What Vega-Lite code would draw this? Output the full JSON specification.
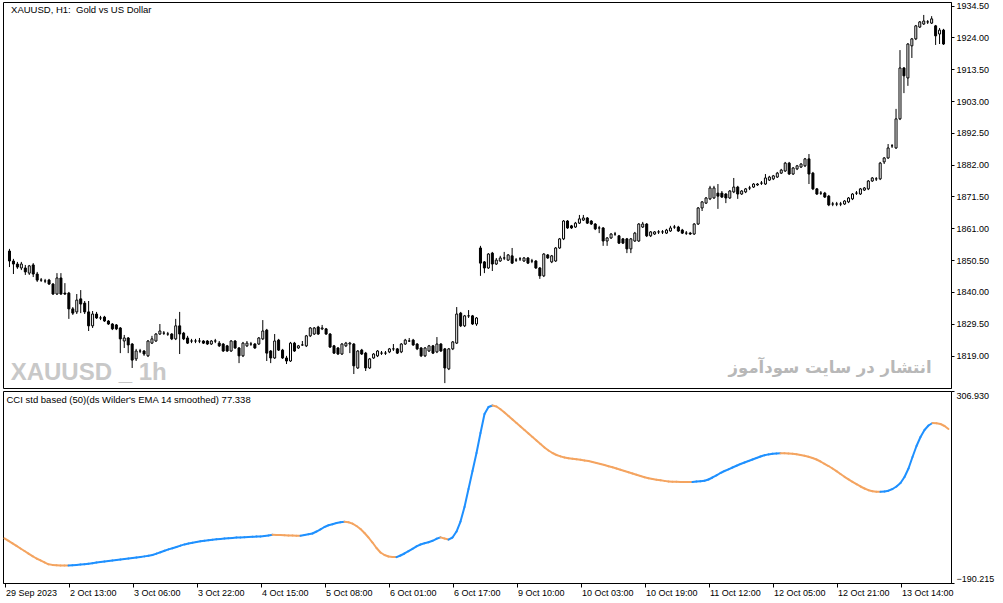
{
  "$schema": "https://vega.github.io/schema/vega-lite/v6.json",
  "padding": {"left": 2, "top": 1, "right": 0, "bottom": 0},
  "background": "white",
  "spacing": 3,
  "bounds": "flush",
  "config": {
    "view": {"stroke": "black", "strokeWidth": 1},
    "font": "Liberation Sans",
    "axis": {
      "labelFont": "Liberation Sans",
      "labelFontSize": 9,
      "labelColor": "black",
      "domainColor": "black",
      "tickColor": "black",
      "grid": false,
      "title": null,
      "tickSize": 3,
      "labelPadding": 2,
      "labelOverlap": false
    }
  },
  "datasets": {
    "bars": [
      {"i":0,"o":1853.5,"h":1854.2,"l":1848.2,"c":1850.2,"v":-74.5,"d":"dn"},
      {"i":1,"o":1850.2,"h":1850.9,"l":1845.9,"c":1849.2,"v":-80.9,"d":"dn"},
      {"i":2,"o":1849.2,"h":1849.9,"l":1847.6,"c":1848.2,"v":-87.4,"d":"dn"},
      {"i":3,"o":1847.9,"h":1849.9,"l":1847.2,"c":1849.2,"v":-94.2,"d":"dn"},
      {"i":4,"o":1847.9,"h":1848.9,"l":1845.6,"c":1846.6,"v":-100.9,"d":"dn"},
      {"i":5,"o":1846.2,"h":1848.9,"l":1845.6,"c":1848.6,"v":-107.4,"d":"dn"},
      {"i":6,"o":1848.9,"h":1849.5,"l":1844.9,"c":1845.9,"v":-114.1,"d":"dn"},
      {"i":7,"o":1845.9,"h":1846.6,"l":1843.3,"c":1843.9,"v":-120.8,"d":"dn"},
      {"i":8,"o":1843.9,"h":1844.6,"l":1843.3,"c":1843.9,"v":-126.8,"d":"dn"},
      {"i":9,"o":1843.6,"h":1844.3,"l":1842.9,"c":1843.6,"v":-131.7,"d":"dn"},
      {"i":10,"o":1843.9,"h":1844.3,"l":1842.3,"c":1842.6,"v":-136.9,"d":"dn"},
      {"i":11,"o":1842.6,"h":1842.9,"l":1839.0,"c":1839.3,"v":-141.8,"d":"dn"},
      {"i":12,"o":1839.3,"h":1846.2,"l":1839.0,"c":1844.6,"v":-143.3,"d":"dn"},
      {"i":13,"o":1844.6,"h":1846.2,"l":1839.0,"c":1839.3,"v":-144.4,"d":"dn"},
      {"i":14,"o":1839.6,"h":1842.9,"l":1839.0,"c":1839.3,"v":-144.9,"d":"dn"},
      {"i":15,"o":1839.6,"h":1840.0,"l":1831.1,"c":1834.4,"v":-144.9,"d":"dn"},
      {"i":16,"o":1834.4,"h":1835.0,"l":1832.4,"c":1833.0,"v":-144.6,"d":"dn"},
      {"i":17,"o":1833.4,"h":1839.3,"l":1832.7,"c":1837.3,"v":-144.4,"d":"up"},
      {"i":18,"o":1837.7,"h":1840.6,"l":1833.0,"c":1836.0,"v":-143.6,"d":"up"},
      {"i":19,"o":1836.3,"h":1837.0,"l":1832.7,"c":1833.4,"v":-142.6,"d":"up"},
      {"i":20,"o":1833.4,"h":1837.0,"l":1827.1,"c":1828.8,"v":-141.5,"d":"up"},
      {"i":21,"o":1828.8,"h":1833.7,"l":1828.1,"c":1832.7,"v":-140.5,"d":"up"},
      {"i":22,"o":1832.7,"h":1833.4,"l":1831.1,"c":1831.4,"v":-138.9,"d":"up"},
      {"i":23,"o":1831.4,"h":1832.1,"l":1830.7,"c":1831.4,"v":-137.4,"d":"up"},
      {"i":24,"o":1831.7,"h":1832.1,"l":1830.1,"c":1830.4,"v":-136.1,"d":"up"},
      {"i":25,"o":1830.4,"h":1830.7,"l":1829.1,"c":1829.4,"v":-134.8,"d":"up"},
      {"i":26,"o":1829.4,"h":1829.7,"l":1827.4,"c":1827.8,"v":-133.5,"d":"up"},
      {"i":27,"o":1829.1,"h":1829.4,"l":1827.4,"c":1827.8,"v":-132.0,"d":"up"},
      {"i":28,"o":1828.1,"h":1828.4,"l":1819.8,"c":1824.5,"v":-130.7,"d":"up"},
      {"i":29,"o":1823.8,"h":1825.8,"l":1821.5,"c":1824.8,"v":-129.4,"d":"up"},
      {"i":30,"o":1824.8,"h":1825.1,"l":1819.8,"c":1822.5,"v":-128.1,"d":"up"},
      {"i":31,"o":1822.8,"h":1823.1,"l":1814.9,"c":1817.5,"v":-126.8,"d":"up"},
      {"i":32,"o":1817.9,"h":1821.2,"l":1817.2,"c":1820.5,"v":-125.5,"d":"up"},
      {"i":33,"o":1820.5,"h":1821.2,"l":1819.8,"c":1820.5,"v":-124.2,"d":"up"},
      {"i":34,"o":1820.5,"h":1820.8,"l":1818.9,"c":1819.5,"v":-122.9,"d":"up"},
      {"i":35,"o":1818.9,"h":1824.1,"l":1818.5,"c":1823.8,"v":-121.3,"d":"up"},
      {"i":36,"o":1823.1,"h":1825.5,"l":1822.8,"c":1824.5,"v":-119.8,"d":"up"},
      {"i":37,"o":1823.8,"h":1826.4,"l":1823.5,"c":1826.1,"v":-117.7,"d":"up"},
      {"i":38,"o":1826.1,"h":1829.4,"l":1825.8,"c":1827.1,"v":-114.1,"d":"up"},
      {"i":39,"o":1826.4,"h":1827.1,"l":1825.8,"c":1826.4,"v":-110.5,"d":"up"},
      {"i":40,"o":1826.1,"h":1826.8,"l":1825.5,"c":1826.1,"v":-106.8,"d":"up"},
      {"i":41,"o":1826.1,"h":1826.4,"l":1824.1,"c":1824.5,"v":-103.2,"d":"up"},
      {"i":42,"o":1824.5,"h":1831.1,"l":1824.1,"c":1828.8,"v":-100.1,"d":"up"},
      {"i":43,"o":1828.8,"h":1833.4,"l":1819.5,"c":1826.1,"v":-97.0,"d":"up"},
      {"i":44,"o":1826.4,"h":1826.8,"l":1824.1,"c":1824.5,"v":-93.4,"d":"up"},
      {"i":45,"o":1824.8,"h":1825.5,"l":1822.8,"c":1823.1,"v":-90.3,"d":"up"},
      {"i":46,"o":1823.8,"h":1824.5,"l":1823.1,"c":1823.8,"v":-87.9,"d":"up"},
      {"i":47,"o":1823.8,"h":1824.5,"l":1823.1,"c":1823.8,"v":-85.9,"d":"up"},
      {"i":48,"o":1823.8,"h":1824.8,"l":1823.1,"c":1823.8,"v":-84.1,"d":"up"},
      {"i":49,"o":1823.8,"h":1824.1,"l":1822.8,"c":1823.1,"v":-82.2,"d":"up"},
      {"i":50,"o":1823.8,"h":1824.1,"l":1822.5,"c":1822.8,"v":-80.7,"d":"up"},
      {"i":51,"o":1822.8,"h":1824.1,"l":1822.5,"c":1823.8,"v":-79.4,"d":"up"},
      {"i":52,"o":1823.8,"h":1824.5,"l":1823.1,"c":1823.8,"v":-78.1,"d":"up"},
      {"i":53,"o":1823.1,"h":1823.8,"l":1821.8,"c":1822.2,"v":-77.1,"d":"up"},
      {"i":54,"o":1822.8,"h":1823.1,"l":1820.2,"c":1820.5,"v":-76.0,"d":"up"},
      {"i":55,"o":1822.2,"h":1822.5,"l":1820.2,"c":1820.5,"v":-75.3,"d":"up"},
      {"i":56,"o":1820.5,"h":1824.1,"l":1820.2,"c":1823.8,"v":-74.2,"d":"up"},
      {"i":57,"o":1823.8,"h":1824.1,"l":1821.2,"c":1821.5,"v":-73.4,"d":"up"},
      {"i":58,"o":1821.5,"h":1821.8,"l":1816.5,"c":1818.9,"v":-72.7,"d":"up"},
      {"i":59,"o":1818.9,"h":1823.5,"l":1818.5,"c":1823.1,"v":-72.1,"d":"up"},
      {"i":60,"o":1822.2,"h":1823.8,"l":1821.8,"c":1823.1,"v":-71.6,"d":"up"},
      {"i":61,"o":1822.8,"h":1823.5,"l":1822.2,"c":1822.8,"v":-71.1,"d":"up"},
      {"i":62,"o":1822.8,"h":1823.1,"l":1821.2,"c":1821.5,"v":-70.6,"d":"up"},
      {"i":63,"o":1822.8,"h":1825.1,"l":1822.5,"c":1824.8,"v":-70.1,"d":"up"},
      {"i":64,"o":1824.5,"h":1830.7,"l":1824.1,"c":1827.1,"v":-69.6,"d":"up"},
      {"i":65,"o":1827.4,"h":1827.8,"l":1817.2,"c":1819.8,"v":-68.5,"d":"up"},
      {"i":66,"o":1820.5,"h":1820.8,"l":1816.5,"c":1818.2,"v":-67.0,"d":"up"},
      {"i":67,"o":1818.2,"h":1826.1,"l":1817.9,"c":1823.8,"v":-65.2,"d":"up"},
      {"i":68,"o":1824.1,"h":1824.5,"l":1820.5,"c":1820.8,"v":-65.7,"d":"dn"},
      {"i":69,"o":1820.8,"h":1821.2,"l":1817.9,"c":1818.2,"v":-66.2,"d":"dn"},
      {"i":70,"o":1818.2,"h":1818.9,"l":1816.2,"c":1817.2,"v":-66.7,"d":"dn"},
      {"i":71,"o":1817.2,"h":1823.5,"l":1816.9,"c":1823.1,"v":-67.2,"d":"dn"},
      {"i":72,"o":1823.1,"h":1823.5,"l":1820.2,"c":1820.5,"v":-67.5,"d":"dn"},
      {"i":73,"o":1821.5,"h":1822.5,"l":1821.2,"c":1822.2,"v":-67.7,"d":"dn"},
      {"i":74,"o":1822.5,"h":1823.8,"l":1822.2,"c":1822.5,"v":-68.0,"d":"dn"},
      {"i":75,"o":1822.2,"h":1825.8,"l":1821.8,"c":1825.5,"v":-65.9,"d":"up"},
      {"i":76,"o":1825.5,"h":1828.4,"l":1825.1,"c":1828.1,"v":-64.1,"d":"up"},
      {"i":77,"o":1826.1,"h":1828.4,"l":1825.8,"c":1828.1,"v":-62.0,"d":"up"},
      {"i":78,"o":1828.4,"h":1828.8,"l":1825.8,"c":1826.1,"v":-56.9,"d":"up"},
      {"i":79,"o":1827.8,"h":1829.1,"l":1827.4,"c":1828.1,"v":-51.2,"d":"up"},
      {"i":80,"o":1827.8,"h":1828.1,"l":1825.8,"c":1826.1,"v":-45.2,"d":"up"},
      {"i":81,"o":1826.1,"h":1826.4,"l":1821.5,"c":1821.8,"v":-40.8,"d":"up"},
      {"i":82,"o":1822.2,"h":1822.5,"l":1819.5,"c":1819.8,"v":-38.0,"d":"up"},
      {"i":83,"o":1821.5,"h":1821.8,"l":1819.2,"c":1819.5,"v":-34.9,"d":"up"},
      {"i":84,"o":1819.5,"h":1823.1,"l":1819.2,"c":1822.8,"v":-33.0,"d":"up"},
      {"i":85,"o":1822.2,"h":1823.5,"l":1821.8,"c":1823.1,"v":-31.8,"d":"up"},
      {"i":86,"o":1822.8,"h":1823.5,"l":1819.8,"c":1823.1,"v":-32.8,"d":"dn"},
      {"i":87,"o":1822.8,"h":1823.1,"l":1812.9,"c":1815.6,"v":-36.4,"d":"dn"},
      {"i":88,"o":1814.9,"h":1820.8,"l":1814.6,"c":1820.5,"v":-42.6,"d":"dn"},
      {"i":89,"o":1820.8,"h":1821.2,"l":1819.2,"c":1819.5,"v":-50.4,"d":"dn"},
      {"i":90,"o":1819.8,"h":1820.2,"l":1813.9,"c":1814.9,"v":-60.8,"d":"dn"},
      {"i":91,"o":1814.9,"h":1818.2,"l":1814.6,"c":1817.9,"v":-72.4,"d":"dn"},
      {"i":92,"o":1818.2,"h":1819.8,"l":1817.9,"c":1819.5,"v":-85.4,"d":"dn"},
      {"i":93,"o":1818.9,"h":1820.8,"l":1818.5,"c":1820.5,"v":-99.6,"d":"dn"},
      {"i":94,"o":1819.8,"h":1820.5,"l":1819.2,"c":1819.8,"v":-111.2,"d":"dn"},
      {"i":95,"o":1819.8,"h":1820.5,"l":1819.2,"c":1819.8,"v":-117.7,"d":"dn"},
      {"i":96,"o":1820.2,"h":1821.5,"l":1819.8,"c":1821.2,"v":-121.6,"d":"dn"},
      {"i":97,"o":1821.2,"h":1822.8,"l":1820.5,"c":1821.2,"v":-122.6,"d":"dn"},
      {"i":98,"o":1821.2,"h":1821.5,"l":1819.5,"c":1819.8,"v":-123.2,"d":"dn"},
      {"i":99,"o":1820.2,"h":1823.1,"l":1819.8,"c":1822.8,"v":-119.0,"d":"up"},
      {"i":100,"o":1822.8,"h":1824.5,"l":1822.5,"c":1824.1,"v":-113.8,"d":"up"},
      {"i":101,"o":1823.8,"h":1824.8,"l":1823.5,"c":1823.8,"v":-107.9,"d":"up"},
      {"i":102,"o":1824.1,"h":1824.5,"l":1822.2,"c":1822.5,"v":-101.7,"d":"up"},
      {"i":103,"o":1822.8,"h":1823.1,"l":1820.8,"c":1821.2,"v":-95.2,"d":"up"},
      {"i":104,"o":1821.5,"h":1821.8,"l":1818.5,"c":1818.9,"v":-90.5,"d":"up"},
      {"i":105,"o":1818.9,"h":1821.8,"l":1818.5,"c":1821.5,"v":-87.4,"d":"up"},
      {"i":106,"o":1820.5,"h":1822.5,"l":1820.2,"c":1822.2,"v":-84.6,"d":"up"},
      {"i":107,"o":1822.2,"h":1822.5,"l":1819.5,"c":1819.8,"v":-80.9,"d":"up"},
      {"i":108,"o":1820.2,"h":1825.1,"l":1819.8,"c":1822.8,"v":-75.8,"d":"up"},
      {"i":109,"o":1822.8,"h":1823.1,"l":1820.2,"c":1820.5,"v":-72.1,"d":"up"},
      {"i":110,"o":1821.2,"h":1821.5,"l":1809.9,"c":1814.9,"v":-75.0,"d":"dn"},
      {"i":111,"o":1814.6,"h":1821.5,"l":1814.2,"c":1821.2,"v":-77.8,"d":"dn"},
      {"i":112,"o":1821.2,"h":1823.8,"l":1820.8,"c":1823.5,"v":-72.4,"d":"up"},
      {"i":113,"o":1823.1,"h":1835.0,"l":1822.8,"c":1832.7,"v":-56.9,"d":"up"},
      {"i":114,"o":1833.0,"h":1833.4,"l":1828.4,"c":1828.8,"v":-31.0,"d":"up"},
      {"i":115,"o":1828.8,"h":1832.4,"l":1828.4,"c":1832.1,"v":6.6,"d":"up"},
      {"i":116,"o":1832.1,"h":1834.0,"l":1831.4,"c":1832.1,"v":53.2,"d":"up"},
      {"i":117,"o":1832.1,"h":1832.4,"l":1829.1,"c":1829.4,"v":99.8,"d":"up"},
      {"i":118,"o":1829.4,"h":1831.7,"l":1828.8,"c":1831.4,"v":146.4,"d":"up"},
      {"i":119,"o":1854.5,"h":1855.2,"l":1845.3,"c":1849.5,"v":198.2,"d":"up"},
      {"i":120,"o":1849.9,"h":1850.2,"l":1846.2,"c":1847.9,"v":247.4,"d":"up"},
      {"i":121,"o":1847.9,"h":1852.8,"l":1847.6,"c":1852.5,"v":265.5,"d":"up"},
      {"i":122,"o":1852.8,"h":1853.2,"l":1846.9,"c":1849.2,"v":269.4,"d":"up"},
      {"i":123,"o":1849.2,"h":1851.2,"l":1848.9,"c":1850.5,"v":266.8,"d":"dn"},
      {"i":124,"o":1850.2,"h":1851.9,"l":1849.9,"c":1851.2,"v":259.6,"d":"dn"},
      {"i":125,"o":1851.2,"h":1853.2,"l":1850.5,"c":1851.2,"v":251.3,"d":"dn"},
      {"i":126,"o":1850.5,"h":1852.5,"l":1850.2,"c":1852.2,"v":242.2,"d":"dn"},
      {"i":127,"o":1851.9,"h":1854.5,"l":1849.2,"c":1849.5,"v":233.1,"d":"dn"},
      {"i":128,"o":1850.5,"h":1851.2,"l":1849.9,"c":1850.5,"v":224.1,"d":"dn"},
      {"i":129,"o":1850.9,"h":1851.5,"l":1850.2,"c":1850.9,"v":215.0,"d":"dn"},
      {"i":130,"o":1850.2,"h":1851.5,"l":1849.9,"c":1851.2,"v":206.0,"d":"dn"},
      {"i":131,"o":1851.2,"h":1851.5,"l":1849.2,"c":1849.5,"v":196.9,"d":"dn"},
      {"i":132,"o":1850.2,"h":1850.9,"l":1849.5,"c":1850.2,"v":187.8,"d":"dn"},
      {"i":133,"o":1850.2,"h":1850.5,"l":1847.6,"c":1847.9,"v":178.8,"d":"dn"},
      {"i":134,"o":1847.9,"h":1848.2,"l":1844.3,"c":1845.3,"v":169.7,"d":"dn"},
      {"i":135,"o":1845.3,"h":1852.8,"l":1844.9,"c":1852.5,"v":160.6,"d":"dn"},
      {"i":136,"o":1852.2,"h":1852.5,"l":1850.9,"c":1851.2,"v":152.9,"d":"dn"},
      {"i":137,"o":1849.9,"h":1852.2,"l":1849.5,"c":1851.9,"v":146.4,"d":"dn"},
      {"i":138,"o":1850.2,"h":1854.8,"l":1849.9,"c":1854.5,"v":141.2,"d":"dn"},
      {"i":139,"o":1854.5,"h":1857.8,"l":1854.2,"c":1857.5,"v":137.6,"d":"dn"},
      {"i":140,"o":1857.5,"h":1863.7,"l":1857.1,"c":1863.4,"v":134.7,"d":"dn"},
      {"i":141,"o":1863.4,"h":1863.7,"l":1860.8,"c":1861.1,"v":132.9,"d":"dn"},
      {"i":142,"o":1861.8,"h":1862.1,"l":1860.8,"c":1861.1,"v":131.4,"d":"dn"},
      {"i":143,"o":1861.4,"h":1863.1,"l":1861.1,"c":1862.7,"v":130.1,"d":"dn"},
      {"i":144,"o":1862.7,"h":1865.4,"l":1862.4,"c":1864.1,"v":128.8,"d":"dn"},
      {"i":145,"o":1863.7,"h":1865.4,"l":1863.4,"c":1864.4,"v":127.0,"d":"dn"},
      {"i":146,"o":1864.4,"h":1864.7,"l":1862.4,"c":1862.7,"v":125.7,"d":"dn"},
      {"i":147,"o":1863.4,"h":1863.7,"l":1862.1,"c":1862.4,"v":123.1,"d":"dn"},
      {"i":148,"o":1862.4,"h":1862.7,"l":1860.4,"c":1860.8,"v":120.5,"d":"dn"},
      {"i":149,"o":1861.1,"h":1861.8,"l":1859.4,"c":1861.1,"v":117.9,"d":"dn"},
      {"i":150,"o":1861.1,"h":1861.4,"l":1855.2,"c":1856.8,"v":115.3,"d":"dn"},
      {"i":151,"o":1856.8,"h":1858.1,"l":1855.2,"c":1857.8,"v":112.2,"d":"dn"},
      {"i":152,"o":1857.8,"h":1859.4,"l":1857.5,"c":1859.1,"v":109.4,"d":"dn"},
      {"i":153,"o":1859.1,"h":1859.8,"l":1858.5,"c":1859.1,"v":106.3,"d":"dn"},
      {"i":154,"o":1858.5,"h":1858.8,"l":1855.8,"c":1856.1,"v":102.9,"d":"dn"},
      {"i":155,"o":1857.5,"h":1857.8,"l":1855.8,"c":1856.1,"v":99.8,"d":"dn"},
      {"i":156,"o":1857.5,"h":1857.8,"l":1852.8,"c":1854.2,"v":96.4,"d":"dn"},
      {"i":157,"o":1854.2,"h":1857.8,"l":1852.8,"c":1857.5,"v":93.3,"d":"dn"},
      {"i":158,"o":1856.8,"h":1859.8,"l":1856.5,"c":1859.4,"v":90.0,"d":"dn"},
      {"i":159,"o":1856.8,"h":1862.7,"l":1856.5,"c":1862.4,"v":86.8,"d":"dn"},
      {"i":160,"o":1861.4,"h":1863.1,"l":1861.1,"c":1862.4,"v":83.7,"d":"dn"},
      {"i":161,"o":1862.4,"h":1862.7,"l":1858.1,"c":1858.5,"v":81.2,"d":"dn"},
      {"i":162,"o":1858.5,"h":1860.1,"l":1858.1,"c":1859.8,"v":79.1,"d":"dn"},
      {"i":163,"o":1859.1,"h":1860.1,"l":1858.8,"c":1859.8,"v":77.3,"d":"dn"},
      {"i":164,"o":1859.8,"h":1860.4,"l":1859.1,"c":1859.8,"v":75.7,"d":"dn"},
      {"i":165,"o":1859.8,"h":1860.4,"l":1859.1,"c":1859.8,"v":74.2,"d":"dn"},
      {"i":166,"o":1859.4,"h":1860.8,"l":1859.1,"c":1860.4,"v":72.9,"d":"dn"},
      {"i":167,"o":1860.1,"h":1861.8,"l":1859.8,"c":1861.1,"v":72.1,"d":"dn"},
      {"i":168,"o":1861.4,"h":1862.1,"l":1860.8,"c":1861.4,"v":71.8,"d":"dn"},
      {"i":169,"o":1861.4,"h":1861.8,"l":1859.8,"c":1860.1,"v":71.6,"d":"dn"},
      {"i":170,"o":1860.4,"h":1860.8,"l":1859.1,"c":1859.4,"v":71.4,"d":"dn"},
      {"i":171,"o":1859.4,"h":1860.1,"l":1858.8,"c":1859.4,"v":71.3,"d":"dn"},
      {"i":172,"o":1859.4,"h":1859.8,"l":1858.8,"c":1859.1,"v":71.2,"d":"dn"},
      {"i":173,"o":1859.1,"h":1862.7,"l":1858.8,"c":1862.4,"v":72.3,"d":"up"},
      {"i":174,"o":1862.4,"h":1868.0,"l":1862.1,"c":1867.7,"v":73.1,"d":"up"},
      {"i":175,"o":1867.7,"h":1870.0,"l":1866.7,"c":1869.7,"v":74.4,"d":"up"},
      {"i":176,"o":1869.3,"h":1871.3,"l":1869.0,"c":1871.0,"v":77.8,"d":"up"},
      {"i":177,"o":1870.7,"h":1875.0,"l":1870.3,"c":1874.3,"v":83.0,"d":"up"},
      {"i":178,"o":1871.0,"h":1875.0,"l":1870.7,"c":1874.3,"v":88.7,"d":"up"},
      {"i":179,"o":1872.6,"h":1875.6,"l":1867.4,"c":1871.6,"v":94.6,"d":"up"},
      {"i":180,"o":1872.6,"h":1873.3,"l":1871.0,"c":1871.3,"v":99.8,"d":"up"},
      {"i":181,"o":1872.3,"h":1872.6,"l":1869.3,"c":1871.0,"v":104.2,"d":"up"},
      {"i":182,"o":1871.0,"h":1873.6,"l":1870.7,"c":1873.3,"v":108.9,"d":"up"},
      {"i":183,"o":1873.0,"h":1877.6,"l":1872.6,"c":1874.6,"v":113.3,"d":"up"},
      {"i":184,"o":1874.6,"h":1875.0,"l":1870.7,"c":1872.3,"v":117.9,"d":"up"},
      {"i":185,"o":1872.3,"h":1873.6,"l":1872.0,"c":1873.3,"v":121.8,"d":"up"},
      {"i":186,"o":1873.0,"h":1874.3,"l":1872.6,"c":1874.0,"v":125.7,"d":"up"},
      {"i":187,"o":1874.3,"h":1875.0,"l":1873.6,"c":1874.3,"v":129.6,"d":"up"},
      {"i":188,"o":1874.6,"h":1875.9,"l":1874.3,"c":1875.6,"v":133.5,"d":"up"},
      {"i":189,"o":1875.3,"h":1875.9,"l":1875.0,"c":1875.6,"v":137.3,"d":"up"},
      {"i":190,"o":1875.9,"h":1876.6,"l":1875.3,"c":1875.9,"v":140.7,"d":"up"},
      {"i":191,"o":1875.6,"h":1878.9,"l":1875.3,"c":1877.6,"v":142.8,"d":"up"},
      {"i":192,"o":1876.9,"h":1878.3,"l":1876.6,"c":1877.9,"v":144.3,"d":"up"},
      {"i":193,"o":1877.3,"h":1878.6,"l":1876.9,"c":1878.3,"v":145.4,"d":"up"},
      {"i":194,"o":1877.9,"h":1879.6,"l":1877.6,"c":1879.2,"v":145.9,"d":"up"},
      {"i":195,"o":1879.2,"h":1880.6,"l":1878.9,"c":1880.2,"v":145.6,"d":"dn"},
      {"i":196,"o":1879.9,"h":1882.9,"l":1879.6,"c":1882.5,"v":145.1,"d":"dn"},
      {"i":197,"o":1882.5,"h":1882.9,"l":1878.6,"c":1878.9,"v":144.6,"d":"dn"},
      {"i":198,"o":1878.9,"h":1881.2,"l":1878.6,"c":1880.9,"v":143.3,"d":"dn"},
      {"i":199,"o":1880.6,"h":1881.9,"l":1880.2,"c":1881.6,"v":141.2,"d":"dn"},
      {"i":200,"o":1881.2,"h":1882.5,"l":1880.9,"c":1882.2,"v":139.2,"d":"dn"},
      {"i":201,"o":1881.6,"h":1884.2,"l":1881.2,"c":1883.9,"v":136.6,"d":"dn"},
      {"i":202,"o":1883.9,"h":1885.5,"l":1875.6,"c":1878.9,"v":133.5,"d":"dn"},
      {"i":203,"o":1879.2,"h":1879.6,"l":1873.6,"c":1874.0,"v":129.6,"d":"dn"},
      {"i":204,"o":1874.0,"h":1874.3,"l":1872.0,"c":1872.3,"v":124.4,"d":"dn"},
      {"i":205,"o":1872.6,"h":1873.3,"l":1872.0,"c":1872.6,"v":118.4,"d":"dn"},
      {"i":206,"o":1872.6,"h":1873.0,"l":1871.0,"c":1871.3,"v":112.7,"d":"dn"},
      {"i":207,"o":1871.6,"h":1872.0,"l":1868.3,"c":1868.7,"v":106.3,"d":"dn"},
      {"i":208,"o":1869.0,"h":1869.7,"l":1868.3,"c":1869.0,"v":99.3,"d":"dn"},
      {"i":209,"o":1869.0,"h":1869.7,"l":1868.3,"c":1869.0,"v":92.0,"d":"dn"},
      {"i":210,"o":1869.0,"h":1869.7,"l":1868.3,"c":1869.0,"v":84.8,"d":"dn"},
      {"i":211,"o":1869.0,"h":1870.3,"l":1868.7,"c":1870.0,"v":78.3,"d":"dn"},
      {"i":212,"o":1869.7,"h":1871.3,"l":1869.3,"c":1871.0,"v":71.8,"d":"dn"},
      {"i":213,"o":1870.7,"h":1872.6,"l":1870.3,"c":1872.3,"v":65.6,"d":"dn"},
      {"i":214,"o":1872.6,"h":1873.3,"l":1872.0,"c":1872.6,"v":59.7,"d":"dn"},
      {"i":215,"o":1872.3,"h":1874.3,"l":1872.0,"c":1874.0,"v":54.5,"d":"dn"},
      {"i":216,"o":1873.6,"h":1874.6,"l":1873.3,"c":1874.3,"v":50.1,"d":"dn"},
      {"i":217,"o":1874.0,"h":1876.9,"l":1873.6,"c":1876.6,"v":47.5,"d":"dn"},
      {"i":218,"o":1876.6,"h":1877.9,"l":1876.3,"c":1877.6,"v":46.2,"d":"dn"},
      {"i":219,"o":1877.3,"h":1877.9,"l":1876.6,"c":1877.3,"v":45.9,"d":"dn"},
      {"i":220,"o":1877.3,"h":1882.9,"l":1876.9,"c":1882.5,"v":46.7,"d":"up"},
      {"i":221,"o":1882.9,"h":1884.5,"l":1882.2,"c":1884.2,"v":48.8,"d":"up"},
      {"i":222,"o":1884.2,"h":1888.8,"l":1883.9,"c":1887.5,"v":53.2,"d":"up"},
      {"i":223,"o":1888.2,"h":1888.8,"l":1887.5,"c":1888.2,"v":59.7,"d":"up"},
      {"i":224,"o":1887.5,"h":1900.4,"l":1887.2,"c":1897.1,"v":68.7,"d":"up"},
      {"i":225,"o":1897.1,"h":1919.8,"l":1896.7,"c":1913.9,"v":84.3,"d":"up"},
      {"i":226,"o":1913.9,"h":1914.2,"l":1905.6,"c":1911.3,"v":106.3,"d":"up"},
      {"i":227,"o":1910.6,"h":1922.1,"l":1908.0,"c":1921.8,"v":136.0,"d":"up"},
      {"i":228,"o":1921.2,"h":1923.8,"l":1917.2,"c":1923.5,"v":164.5,"d":"up"},
      {"i":229,"o":1923.5,"h":1928.1,"l":1923.1,"c":1927.8,"v":187.8,"d":"up"},
      {"i":230,"o":1927.4,"h":1929.4,"l":1927.1,"c":1929.1,"v":206.0,"d":"up"},
      {"i":231,"o":1928.4,"h":1931.4,"l":1928.1,"c":1929.4,"v":217.6,"d":"up"},
      {"i":232,"o":1929.1,"h":1929.7,"l":1928.4,"c":1929.1,"v":224.1,"d":"up"},
      {"i":233,"o":1928.7,"h":1931.0,"l":1928.4,"c":1930.1,"v":223.6,"d":"dn"},
      {"i":234,"o":1927.8,"h":1928.1,"l":1921.5,"c":1924.5,"v":221.5,"d":"dn"},
      {"i":235,"o":1925.1,"h":1927.1,"l":1921.8,"c":1926.4,"v":216.3,"d":"dn"},
      {"i":236,"o":1926.4,"h":1926.8,"l":1921.5,"c":1921.8,"v":208.5,"d":"dn"}
    ]
  },
  "vconcat": [
    {
      "width": 948,
      "height": 386,
      "layer": [
        {
          "data": {"values": [{"t": "XAUUSD _ 1h"}]},
          "mark": {"type": "text", "font": "Liberation Sans", "fontSize": 24, "fontWeight": "bold", "color": "#c8c8c8", "align": "left", "baseline": "alphabetic"},
          "encoding": {
            "x": {"datum": 0.3, "type": "quantitative", "scale": {"domain": [-0.375, 236.625], "nice": false, "zero": false}, "axis": null},
            "y": {
              "datum": 1811.0, "type": "quantitative",
              "scale": {"domain": [1808.29, 1935.67], "nice": false, "zero": false},
              "axis": {"orient": "right", "values": [1819, 1829.5, 1840, 1850.5, 1861, 1871.5, 1882, 1892.5, 1903, 1913.5, 1924, 1934.5], "format": ".2f"}
            },
            "text": {"field": "t"}
          }
        },
        {
          "data": {"values": [{"t": "انتشار در سایت سودآموز"}]},
          "mark": {"type": "text", "font": "DejaVu Sans", "fontSize": 16.5, "fontWeight": "bold", "color": "#b8b8b8", "align": "right", "baseline": "alphabetic"},
          "encoding": {
            "x": {"datum": 233, "type": "quantitative", "scale": {"domain": [-0.375, 236.625], "nice": false, "zero": false}, "axis": null},
            "y": {
              "datum": 1813.2, "type": "quantitative",
              "scale": {"domain": [1808.29, 1935.67], "nice": false, "zero": false},
              "axis": {"orient": "right", "values": [1819, 1829.5, 1840, 1850.5, 1861, 1871.5, 1882, 1892.5, 1903, 1913.5, 1924, 1934.5], "format": ".2f"}
            },
            "text": {"field": "t"}
          }
        },
        {
          "data": {"values": [{"t": "XAUUSD, H1:\u00a0 Gold vs US Dollar"}]},
          "mark": {"type": "text", "font": "Liberation Sans", "fontSize": 9.5, "color": "black", "align": "left", "baseline": "alphabetic"},
          "encoding": {
            "x": {"datum": 0.4, "type": "quantitative", "scale": {"domain": [-0.375, 236.625], "nice": false, "zero": false}, "axis": null},
            "y": {
              "datum": 1931.9, "type": "quantitative",
              "scale": {"domain": [1808.29, 1935.67], "nice": false, "zero": false},
              "axis": {"orient": "right", "values": [1819, 1829.5, 1840, 1850.5, 1861, 1871.5, 1882, 1892.5, 1903, 1913.5, 1924, 1934.5], "format": ".2f"}
            },
            "text": {"field": "t"}
          }
        },
        {
          "data": {"name": "bars"},
          "mark": {"type": "rule", "color": "black", "strokeWidth": 1},
          "encoding": {
            "x": {"field": "i", "type": "quantitative", "scale": {"domain": [-0.375, 236.625], "nice": false, "zero": false}, "axis": null},
            "y": {
              "field": "l", "type": "quantitative",
              "scale": {"domain": [1808.29, 1935.67], "nice": false, "zero": false},
              "axis": {"orient": "right", "values": [1819, 1829.5, 1840, 1850.5, 1861, 1871.5, 1882, 1892.5, 1903, 1913.5, 1924, 1934.5], "format": ".2f"}
            },
            "y2": {"field": "h"}
          }
        },
        {
          "data": {"name": "bars"},
          "mark": {"type": "bar", "size": 2, "stroke": "black", "strokeWidth": 1},
          "encoding": {
            "x": {"field": "i", "type": "quantitative", "scale": {"domain": [-0.375, 236.625], "nice": false, "zero": false}, "axis": null},
            "y": {
              "field": "o", "type": "quantitative",
              "scale": {"domain": [1808.29, 1935.67], "nice": false, "zero": false},
              "axis": {"orient": "right", "values": [1819, 1829.5, 1840, 1850.5, 1861, 1871.5, 1882, 1892.5, 1903, 1913.5, 1924, 1934.5], "format": ".2f"}
            },
            "y2": {"field": "c"},
            "fill": {"condition": {"test": "datum.c >= datum.o", "value": "white"}, "value": "black"}
          }
        }
      ]
    },
    {
      "width": 948,
      "height": 192,
      "layer": [
        {
          "data": {"values": [{"t": "CCI std based (50)(ds Wilder's EMA 14 smoothed) 77.338"}]},
          "mark": {"type": "text", "font": "Liberation Sans", "fontSize": 9.5, "color": "black", "align": "left", "baseline": "alphabetic"},
          "encoding": {
            "x": {
              "datum": 0.5, "type": "quantitative",
              "scale": {"domain": [-0.375, 236.625], "nice": false, "zero": false},
              "axis": {
                "orient": "bottom",
                "values": [0, 16, 32, 48, 64, 80, 96, 112, 128, 144, 160, 176, 192, 208, 224],
                "labelExpr": "['29 Sep 2023','2 Oct 13:00','3 Oct 06:00','3 Oct 22:00','4 Oct 15:00','5 Oct 08:00','6 Oct 01:00','6 Oct 17:00','9 Oct 10:00','10 Oct 03:00','10 Oct 19:00','11 Oct 12:00','12 Oct 05:00','12 Oct 21:00','13 Oct 14:00'][round(datum.value / 16)]",
                "labelAlign": "left",
                "labelOffset": 1,
                "tickSize": 4,
                "labelPadding": 1
              }
            },
            "y": {
              "datum": 276.6, "type": "quantitative",
              "scale": {"domain": [-190.215, 306.93], "nice": false, "zero": false},
              "axis": {"orient": "right", "values": [-190.215, 306.93], "format": ".3f", "labelFlush": true}
            },
            "text": {"field": "t"}
          }
        },
        {
          "data": {"name": "bars"},
          "transform": [
            {"window": [{"op": "lag", "field": "v", "as": "v0"}, {"op": "lag", "field": "i", "as": "i0"}], "sort": [{"field": "i"}]},
            {"filter": "isValid(datum.i0)"}
          ],
          "mark": {"type": "rule", "strokeWidth": 2, "strokeCap": "round"},
          "encoding": {
            "x": {
              "field": "i0", "type": "quantitative",
              "scale": {"domain": [-0.375, 236.625], "nice": false, "zero": false},
              "axis": {
                "orient": "bottom",
                "values": [0, 16, 32, 48, 64, 80, 96, 112, 128, 144, 160, 176, 192, 208, 224],
                "labelExpr": "['29 Sep 2023','2 Oct 13:00','3 Oct 06:00','3 Oct 22:00','4 Oct 15:00','5 Oct 08:00','6 Oct 01:00','6 Oct 17:00','9 Oct 10:00','10 Oct 03:00','10 Oct 19:00','11 Oct 12:00','12 Oct 05:00','12 Oct 21:00','13 Oct 14:00'][round(datum.value / 16)]",
                "labelAlign": "left",
                "labelOffset": 1,
                "tickSize": 4,
                "labelPadding": 1
              }
            },
            "x2": {"field": "i"},
            "y": {
              "field": "v0", "type": "quantitative",
              "scale": {"domain": [-190.215, 306.93], "nice": false, "zero": false},
              "axis": {"orient": "right", "values": [-190.215, 306.93], "format": ".3f", "labelFlush": true}
            },
            "y2": {"field": "v"},
            "color": {"field": "d", "type": "nominal", "scale": {"domain": ["up", "dn"], "range": ["#1e90ff", "#f4a460"]}, "legend": null}
          }
        }
      ]
    }
  ]
}
